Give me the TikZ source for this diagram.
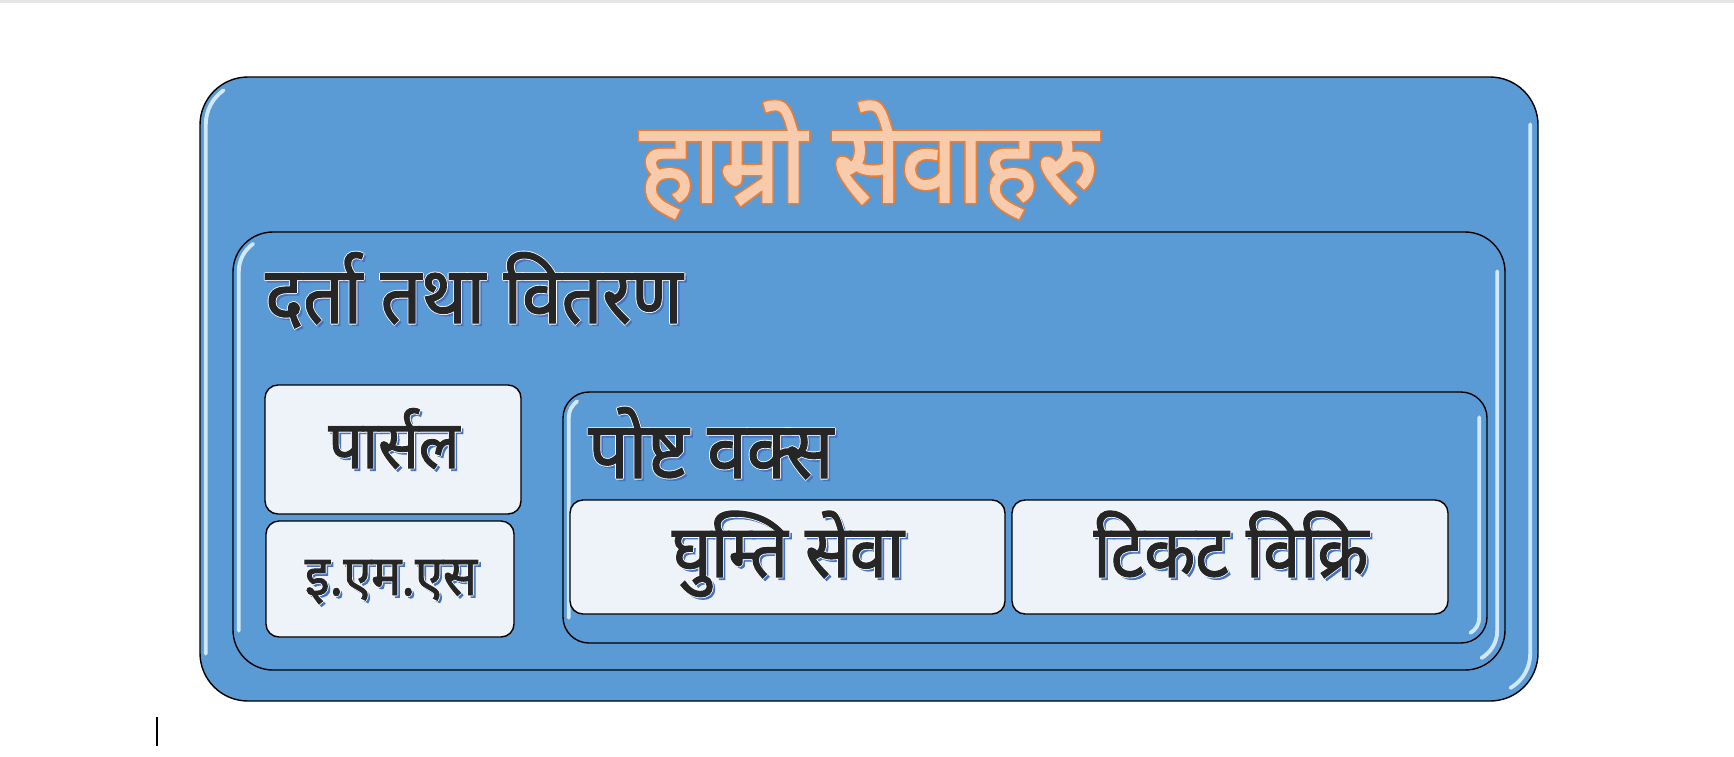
\documentclass[tikz,border=0pt]{standalone}
\usepackage{fontspec}
\newfontfamily\deva[Script=Devanagari, FakeStretch=0.9, FakeBold=1.6]{Noto Sans}

\definecolor{panelblue}{HTML}{5B9BD5}
\definecolor{cardfill}{HTML}{EEF3FA}
\definecolor{inkdark}{HTML}{262626}
\definecolor{shadeblue}{HTML}{4472C4}
\definecolor{titlefill}{HTML}{F8CBAD}
\definecolor{titleline}{HTML}{ED7D31}
\definecolor{glossline}{HTML}{DDF1FF}

% one copy of a text, shifted, in a colour
\newcommand\copyat[4]{\rlap{\kern#1\raisebox{#2}{\color{#3}#4}}}
% dark text, white rim, blue shadow
\newcommand\inklabel[1]{\leavevmode
  \copyat{1.4pt}{-1.4pt}{shadeblue}{#1}%
  \copyat{0.5pt}{0pt}{white}{#1}\copyat{-0.5pt}{0pt}{white}{#1}%
  \copyat{0pt}{0.5pt}{white}{#1}\copyat{0pt}{-0.5pt}{white}{#1}%
  {\color{inkdark}#1}}
% peach text, orange rim
\newcommand\peachlabel[1]{\leavevmode
  \copyat{0.9pt}{0pt}{titleline}{#1}\copyat{-0.9pt}{0pt}{titleline}{#1}%
  \copyat{0pt}{0.9pt}{titleline}{#1}\copyat{0pt}{-0.9pt}{titleline}{#1}%
  \copyat{0.65pt}{0.65pt}{titleline}{#1}\copyat{-0.65pt}{0.65pt}{titleline}{#1}%
  \copyat{0.65pt}{-0.65pt}{titleline}{#1}\copyat{-0.65pt}{-0.65pt}{titleline}{#1}%
  {\color{titlefill}#1}}
% bright edges inside a panel
\newcommand\glossedges[2]{%
  \draw[gloss] ([shift={(0.13,#2)}]#1.south west) -- ([shift={(0.13,-#2)}]#1.north west)
    arc[start angle=180, end angle=125, radius={#2-0.13}];
  \draw[gloss] ([shift={(-0.17,-#2)}]#1.north east) -- ([shift={(-0.17,#2)}]#1.south east)
    arc[start angle=0, end angle=-60, radius={#2-0.17}];}

\tikzset{
  panel/.style={draw=black, line width=0.8pt, fill=panelblue,
    rounded corners=#1, inner sep=0pt},
  card/.style={draw=black, line width=0.8pt, fill=cardfill,
    rounded corners=0.26cm, inner sep=0pt},
  gloss/.style={draw=glossline, line width=2.2pt, line cap=round, opacity=0.9},
  deva/.style={font=\deva\fontsize{#1}{#1}\selectfont, inner sep=0pt},
}

\begin{document}
\begin{tikzpicture}
\useasboundingbox (0,0) rectangle (34.68,-15.12);
\fill[black!10] (0,0) rectangle (34.68,-0.06);

% panels and cards
\node[panel=0.96cm, minimum width=26.76cm, minimum height=12.48cm] (sewa) at (17.38,-7.78) {};
\glossedges{sewa}{0.96}
\node[panel=0.8cm, minimum width=25.44cm, minimum height=8.76cm] (darta) at (17.38,-9.02) {};
\glossedges{darta}{0.8}
\node[card, minimum width=5.12cm, minimum height=2.58cm] (parcel) at (7.86,-8.99) {};
\node[card, minimum width=4.96cm, minimum height=2.32cm] (ems) at (7.80,-11.58) {};
\node[panel=0.52cm, minimum width=18.48cm, minimum height=5.02cm] (postbox) at (20.50,-10.35) {};
\glossedges{postbox}{0.52}
\node[card, minimum width=8.70cm, minimum height=2.28cm] (ghumti) at (15.75,-11.14) {};
\node[card, minimum width=8.72cm, minimum height=2.28cm] (ticket) at (24.60,-11.14) {};

% labels
\node[deva=64, anchor=base] (sewa-t) at (17.38,-4.04) {\peachlabel{हाम्रो सेवाहरु}};
\node[deva=45, anchor=base west] (darta-t) at (5.30,-6.46) {\inklabel{दर्ता तथा वितरण}};
\node[deva=38, anchor=base] (parcel-t) at (7.88,-9.36) {\inklabel{पार्सल}};
\node[deva=32, anchor=base] (ems-t) at (7.82,-11.90) {\inklabel{इ.एम.एस}};
\node[deva=45, anchor=base west] (postbox-t) at (11.76,-9.56) {\inklabel{पोष्ट वक्स}};
\node[deva=42, anchor=base] (ghumti-t) at (15.76,-11.54) {\inklabel{घुम्ति सेवा}};
\node[deva=42, anchor=base] (ticket-t) at (24.62,-11.54) {\inklabel{टिकट विक्रि}};

\draw[line width=0.03cm] (3.14,-14.34) -- (3.14,-14.92);
\end{tikzpicture}
\end{document}
